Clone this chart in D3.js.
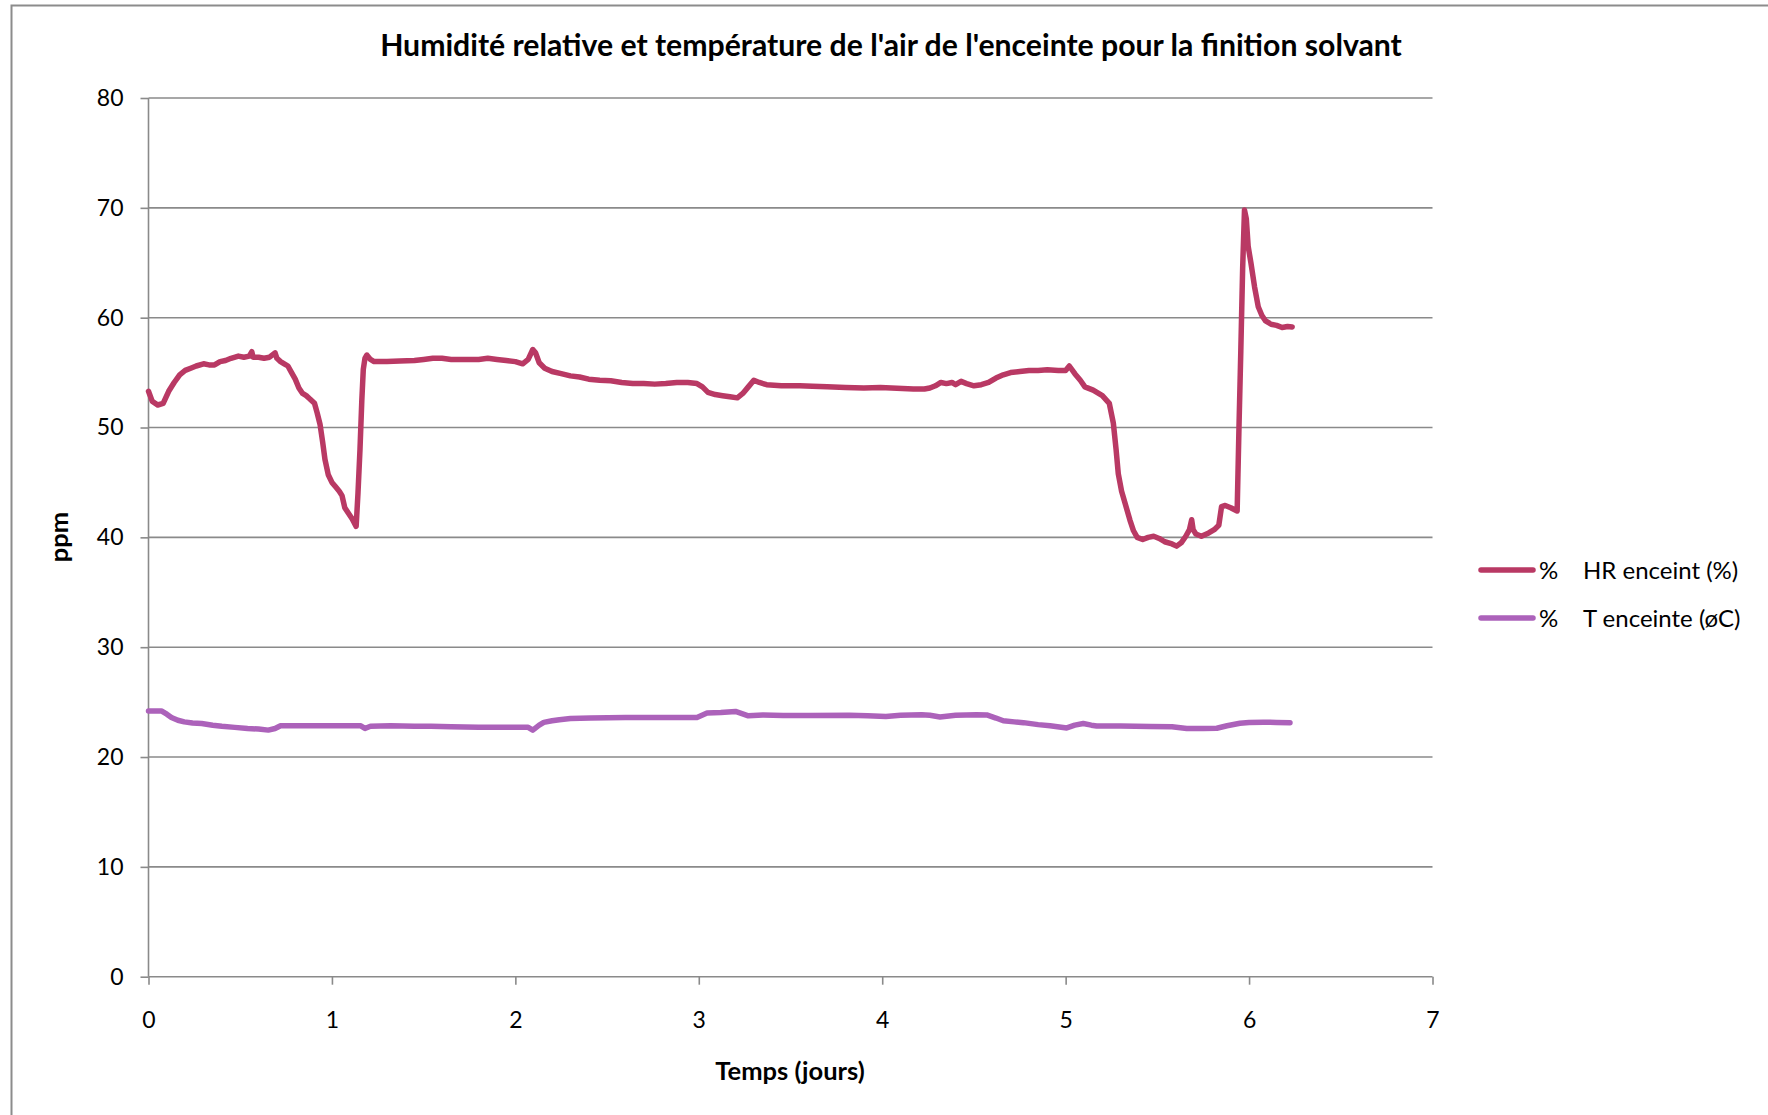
<!DOCTYPE html>
<html><head><meta charset="utf-8">
<script src="https://cdn.jsdelivr.net/npm/d3@7"></script>
<style>body{margin:0;background:#fff;}svg{display:block;}</style>
</head><body>
<script>
// ---- data ----
const yTicks = [0,10,20,30,40,50,60,70,80];
const xTicks = [0,1,2,3,4,5,6,7];
const seriesNames = ["HR enceint (%)", "T enceinte (øC)"];
const hrDays = [0.00,0.02,0.05,0.08,0.11,0.14,0.17,0.20,0.23,0.26,0.30,0.33,0.36,0.39,0.42,0.45,0.49,0.52,0.55,0.563,0.57,0.60,0.63,0.66,0.69,0.70,0.72,0.74,0.76,0.78,0.80,0.82,0.84,0.86,0.88,0.905,0.92,0.935,0.95,0.962,0.98,1.00,1.02,1.04,1.055,1.07,1.09,1.11,1.132,1.142,1.153,1.163,1.171,1.18,1.19,1.21,1.23,1.30,1.37,1.45,1.50,1.55,1.60,1.65,1.70,1.75,1.80,1.85,1.90,1.95,2.00,2.04,2.07,2.095,2.11,2.13,2.16,2.20,2.25,2.30,2.35,2.40,2.46,2.52,2.58,2.64,2.70,2.76,2.82,2.88,2.94,2.99,3.02,3.05,3.09,3.13,3.17,3.21,3.24,3.27,3.30,3.33,3.37,3.45,3.55,3.62,3.70,3.80,3.90,3.99,4.05,4.11,4.17,4.23,4.26,4.29,4.32,4.35,4.38,4.40,4.43,4.46,4.50,4.54,4.58,4.62,4.66,4.70,4.75,4.80,4.85,4.90,4.96,5.00,5.02,5.05,5.08,5.105,5.15,5.20,5.238,5.26,5.275,5.287,5.305,5.324,5.35,5.37,5.39,5.42,5.45,5.48,5.51,5.54,5.58,5.605,5.63,5.655,5.675,5.687,5.695,5.71,5.74,5.78,5.81,5.835,5.85,5.87,5.90,5.935,5.945,5.955,5.965,5.975,5.985,5.995,6.01,6.03,6.05,6.07,6.09,6.12,6.15,6.18,6.21,6.235];
const hrValues = [53.3,52.4,52.05,52.2,53.3,54.1,54.8,55.2,55.4,55.6,55.8,55.7,55.7,56.0,56.1,56.3,56.5,56.4,56.5,56.9,56.4,56.4,56.3,56.4,56.8,56.3,56.0,55.8,55.6,55.0,54.4,53.6,53.1,52.9,52.6,52.2,51.3,50.3,48.6,47.1,45.7,45.0,44.6,44.2,43.8,42.7,42.2,41.7,41.0,44.0,48.0,52.5,55.3,56.3,56.6,56.2,56.0,56.0,56.05,56.1,56.2,56.3,56.3,56.2,56.2,56.2,56.2,56.3,56.2,56.1,56.0,55.8,56.2,57.1,56.8,55.9,55.4,55.1,54.9,54.7,54.6,54.4,54.3,54.25,54.1,54.0,54.0,53.95,54.0,54.1,54.1,54.0,53.7,53.2,53.0,52.9,52.8,52.7,53.1,53.7,54.3,54.1,53.9,53.8,53.8,53.75,53.7,53.65,53.6,53.65,53.6,53.55,53.5,53.5,53.6,53.8,54.1,54.0,54.1,53.9,54.2,54.0,53.8,53.9,54.1,54.5,54.8,55.0,55.1,55.2,55.2,55.25,55.2,55.2,55.6,54.9,54.3,53.7,53.4,52.9,52.2,50.4,48.0,45.8,44.2,43.1,41.6,40.6,40.0,39.8,40.0,40.1,39.9,39.6,39.4,39.2,39.5,40.1,40.7,41.6,40.7,40.3,40.1,40.4,40.7,41.1,42.8,42.9,42.7,42.4,50.0,57.0,64.5,69.8,69.0,66.5,65.0,62.8,61.0,60.2,59.7,59.4,59.3,59.1,59.2,59.15];
const tDays = [0.00,0.07,0.10,0.125,0.16,0.195,0.24,0.29,0.35,0.40,0.47,0.54,0.60,0.653,0.69,0.72,0.80,0.90,1.00,1.10,1.155,1.18,1.21,1.32,1.45,1.54,1.65,1.80,1.95,2.07,2.095,2.13,2.155,2.20,2.24,2.30,2.41,2.60,2.80,2.99,3.045,3.12,3.20,3.235,3.27,3.35,3.46,3.60,3.82,3.92,4.02,4.10,4.215,4.26,4.315,4.40,4.515,4.57,4.62,4.66,4.72,4.77,4.85,4.915,5.006,5.05,5.096,5.14,5.169,5.30,5.46,5.58,5.66,5.75,5.824,5.88,5.95,6.00,6.078,6.15,6.223];
const tValues = [24.2,24.2,23.9,23.6,23.35,23.2,23.1,23.05,22.9,22.8,22.7,22.6,22.55,22.45,22.6,22.85,22.85,22.85,22.85,22.85,22.85,22.6,22.8,22.85,22.8,22.8,22.75,22.72,22.7,22.7,22.45,22.9,23.15,23.3,23.4,23.5,23.55,23.6,23.6,23.6,24.0,24.05,24.15,23.95,23.75,23.83,23.77,23.77,23.8,23.75,23.7,23.8,23.85,23.8,23.65,23.8,23.85,23.83,23.55,23.3,23.2,23.13,22.95,22.85,22.65,22.9,23.05,22.9,22.83,22.83,22.77,22.75,22.6,22.6,22.62,22.85,23.08,23.15,23.17,23.15,23.13];

const W = 1768, H = 1115;
const FONT = "Lato, 'Open Sans', sans-serif";
const colors = ["#B93964", "#AC62BA"];
const gridColor = "#8A8A8A";

const svg = d3.select("body").append("svg").attr("width", W).attr("height", H);
svg.append("rect").attr("width", W).attr("height", H).attr("fill", "#fff");
// outer chart frame
svg.append("rect").attr("x", 11.5).attr("y", 5.5).attr("width", W + 20).attr("height", H + 20)
  .attr("fill", "none").attr("stroke", "#8C8C8C").attr("stroke-width", 2);

const x = d3.scaleLinear().domain([0, 7]).range([148.5, 1432.5]);
const y = d3.scaleLinear().domain([0, 80]).range([976.7, 98]);

// gridlines
svg.append("g").selectAll("line").data(yTicks.filter(d => d > 0)).join("line")
  .attr("x1", x(0)).attr("x2", x(7)).attr("y1", d => y(d)).attr("y2", d => y(d))
  .attr("stroke", gridColor).attr("stroke-width", 1.6);

// y axis
const yAxis = svg.append("g").attr("transform", `translate(${x(0)},0)`)
  .call(d3.axisLeft(y).tickValues(yTicks).tickSize(8).tickPadding(17).tickFormat(d3.format("d")));
// x axis
const xAxis = svg.append("g").attr("transform", `translate(0,${y(0)})`)
  .call(d3.axisBottom(x).tickValues(xTicks).tickSize(8).tickPadding(27).tickFormat(d3.format("d")));
[yAxis, xAxis].forEach(a => {
  a.select(".domain").attr("stroke", gridColor).attr("stroke-width", 1.6);
  a.selectAll(".tick line").attr("stroke", gridColor).attr("stroke-width", 1.6);
  a.selectAll("text").attr("font-family", FONT).attr("font-size", 23).attr("fill", "#000");
});
xAxis.select(".domain").attr("d", `M${x(0)},0H${x(7)}`);
xAxis.selectAll(".tick line").attr("y2", 8);
yAxis.select(".domain").attr("d", `M0,${y(0)}V${y(80)}`);

// lines
const line = d3.line().x(d => x(d[0])).y(d => y(d[1])).curve(d3.curveLinear);
const hrData = hrDays.map((d, i) => [d, hrValues[i]]);
const tData = tDays.map((d, i) => [d, tValues[i]]);
[tData, hrData].forEach((data, k) => {
  svg.append("path").datum(data).attr("d", line).attr("fill", "none")
    .attr("stroke", k === 0 ? colors[1] : colors[0]).attr("stroke-width", 5.5)
    .attr("stroke-linejoin", "round").attr("stroke-linecap", "round");
});

// title
const title = svg.append("text").attr("x", 891).attr("y", 56).attr("text-anchor", "middle")
  .attr("font-family", FONT).attr("font-weight", "bold").attr("font-size", 28).attr("fill", "#000")
  .text("Humidité relative et température de l'air de l'enceinte pour la finition solvant");
const tw = title.node().getComputedTextLength();
title.attr("font-size", 28 * 1022 / tw);

// axis titles
svg.append("text").attr("x", 790).attr("y", 1080).attr("text-anchor", "middle")
  .attr("font-family", FONT).attr("font-weight", "bold").attr("font-size", 25.5).attr("fill", "#000")
  .text("Temps (jours)");
svg.append("text").attr("transform", "translate(68,537) rotate(-90)").attr("text-anchor", "middle")
  .attr("font-family", FONT).attr("font-weight", "bold").attr("font-size", 25.5).attr("fill", "#000")
  .text("ppm");

// legend
const lg = svg.append("g");
seriesNames.forEach((name, i) => {
  const ly = 570 + i * 48;
  lg.append("line").attr("x1", 1481).attr("x2", 1533).attr("y1", ly).attr("y2", ly)
    .attr("stroke", colors[i]).attr("stroke-width", 5.5).attr("stroke-linecap", "round");
  lg.append("text").attr("x", 1539).attr("y", ly + 9).attr("font-family", FONT).attr("font-size", 24)
    .attr("fill", "#000").text("%");
  lg.append("text").attr("x", 1583).attr("y", ly + 9).attr("font-family", FONT).attr("font-size", 24)
    .attr("fill", "#000").text(name);
});
</script>
</body></html>
